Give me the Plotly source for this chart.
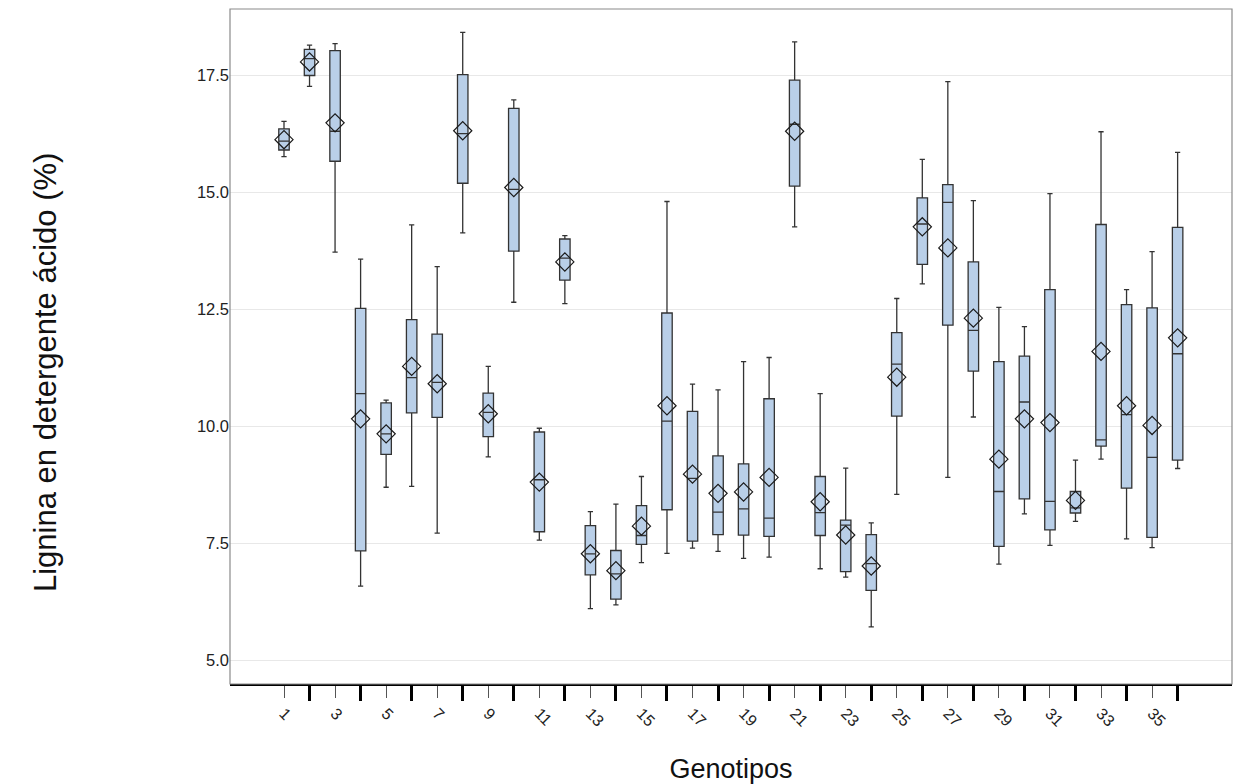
import plotly.graph_objects as go

genotipos = list(range(1, 37))
lower_whisker = [15.76, 17.26, 13.72, 6.59, 8.70, 8.72, 7.72, 14.13, 9.35, 12.65, 7.57, 12.62,
                 6.11, 6.19, 7.09, 7.29, 7.40, 7.33, 7.18, 7.21, 14.26, 6.96, 6.78, 5.72,
                 8.55, 13.04, 8.91, 10.20, 7.06, 8.13, 7.46, 7.97, 9.30, 7.60, 7.41, 9.10]
q1 = [15.90, 17.49, 15.66, 7.34, 9.40, 10.29, 10.19, 15.19, 9.78, 13.74, 7.75, 13.12,
      6.83, 6.31, 7.48, 8.22, 7.55, 7.69, 7.68, 7.65, 15.13, 7.67, 6.90, 6.50,
      10.22, 13.46, 12.16, 11.18, 7.44, 8.45, 7.79, 8.15, 9.58, 8.68, 7.63, 9.28]
median = [16.09, 17.85, 16.30, 10.70, 9.84, 11.04, 10.94, 16.25, 10.30, 15.06, 8.86, 13.59,
          7.28, 6.85, 7.67, 10.11, 8.89, 8.17, 8.24, 8.04, 16.45, 8.16, 7.89, 7.07,
          11.33, 14.32, 14.78, 12.05, 8.61, 10.52, 8.40, 8.26, 9.71, 10.25, 9.34, 11.55]
q3 = [16.35, 18.05, 18.02, 12.52, 10.50, 12.28, 11.97, 17.51, 10.71, 16.79, 9.88, 14.00,
      7.88, 7.35, 8.31, 12.42, 10.32, 9.37, 9.20, 10.59, 17.39, 8.93, 8.00, 7.69,
      12.00, 14.88, 15.16, 13.51, 11.38, 11.50, 12.92, 8.61, 14.31, 12.60, 12.53, 14.25]
upper_whisker = [16.51, 18.14, 18.17, 13.57, 10.56, 14.30, 13.41, 18.41, 11.28, 16.97, 9.96, 14.07,
                 8.18, 8.34, 8.93, 14.80, 10.90, 10.78, 11.38, 11.47, 18.21, 10.70, 9.11, 7.94,
                 12.73, 15.70, 17.36, 14.82, 12.54, 12.13, 14.97, 9.28, 16.29, 12.92, 13.73, 15.85]
media = [16.12, 17.78, 16.48, 10.16, 9.84, 11.28, 10.91, 16.31, 10.27, 15.10, 8.81, 13.51,
         7.28, 6.92, 7.87, 10.44, 8.98, 8.57, 8.60, 8.91, 16.30, 8.39, 7.68, 7.02,
         11.05, 14.26, 13.81, 12.31, 9.30, 10.16, 10.08, 8.42, 11.60, 10.44, 10.02, 11.89]

label_vals = [g for g in genotipos if g % 2 == 1]
label_text = [str(g) for g in label_vals]
minor_vals = [g for g in genotipos if g % 2 == 0]
y_ticks = [5.0, 7.5, 10.0, 12.5, 15.0, 17.5]

fig = go.Figure()
fig.add_trace(go.Box(
    x=genotipos, q1=q1, median=median, q3=q3,
    lowerfence=lower_whisker, upperfence=upper_whisker,
    width=0.41, whiskerwidth=0.5,
    fillcolor="#b9cfe8",
    line=dict(color="#333333", width=1.3),
    boxpoints=False, showlegend=False, hoverinfo="skip",
))
fig.add_trace(go.Scatter(
    x=genotipos, y=media, mode="markers",
    marker=dict(symbol="diamond-open", size=14, color="#1a1a1a", line=dict(width=1.2)),
    showlegend=False, hoverinfo="skip",
))

fig.update_layout(
    width=1233, height=784,
    margin=dict(l=230, r=1, t=9, b=100),
    paper_bgcolor="white", plot_bgcolor="white",
    font=dict(family="Liberation Sans, Arial, sans-serif", color="#222222"),
    shapes=[dict(type="rect", xref="paper", yref="paper", x0=0, y0=0, x1=1, y1=1,
                 line=dict(color="#8a8a8a", width=1.2), layer="above")],
    annotations=[dict(text="Lignina en detergente ácido (%)", textangle=-90,
                      xref="paper", yref="paper", x=-0.1846, y=0.4607,
                      xanchor="center", yanchor="middle", showarrow=False,
                      font=dict(size=31, color="#111111"))],
)
fig.update_xaxes(
    range=[-1.115, 38.13], showgrid=False, zeroline=False,
    tickmode="array", tickvals=label_vals, ticktext=label_text,
    ticks="outside", ticklen=12, tickwidth=1, tickcolor="#555555",
    tickangle=45, tickfont=dict(size=16, color="#222222"),
    minor=dict(tickmode="array", tickvals=minor_vals, ticks="outside",
               ticklen=15, tickwidth=3, tickcolor="#000000", showgrid=False),
    showline=True, linecolor="#000000", linewidth=2,
    title=dict(text="Genotipos", font=dict(size=27, color="#111111"), standoff=30),
)
fig.update_yaxes(
    range=[4.5, 18.91], showgrid=True, gridcolor="#e8e8e8", gridwidth=1, zeroline=False,
    tickmode="array", tickvals=y_ticks, tickformat=".1f",
    ticks="", tickfont=dict(size=16.5, color="#222222"),
    showline=False,
)

fig.write_html("out.html")
